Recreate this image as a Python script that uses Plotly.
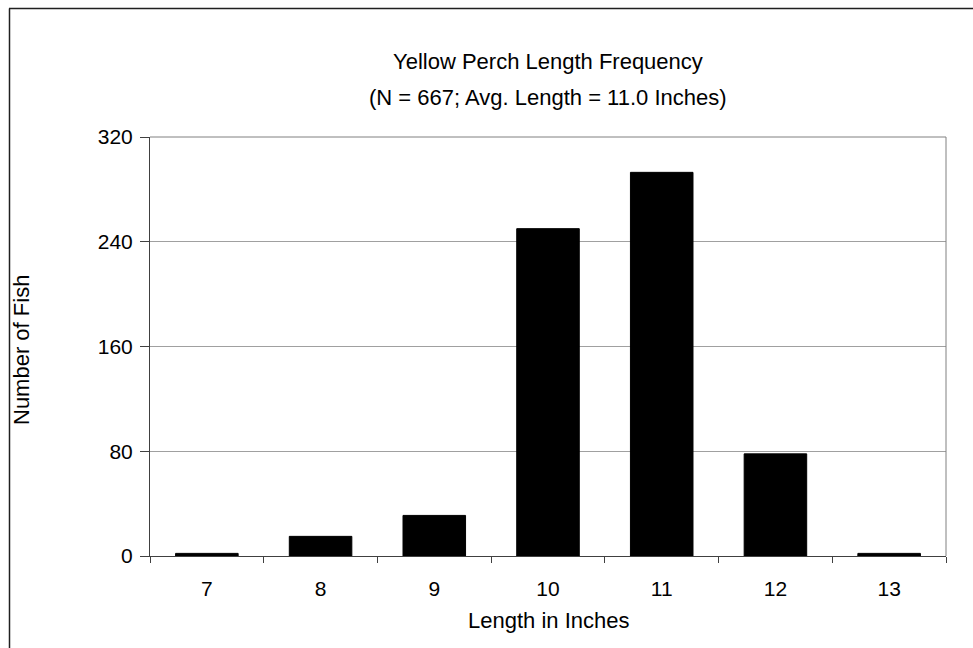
import plotly.graph_objects as go

lengths = ["7", "8", "9", "10", "11", "12", "13"]
counts = [2, 15, 31, 250, 293, 78, 2]
y_ticks = [0, 80, 160, 240, 320]
title_line1 = "Yellow Perch Length Frequency"
title_line2 = "(N = 667; Avg. Length = 11.0 Inches)"
x_title = "Length in Inches"
y_title = "Number of Fish"

FONT = "Liberation Sans, Arial, sans-serif"
W, H = 973, 648
L, R, T, B = 150, 27, 137, 92
pw = W - L - R
ph = H - T - B


def px_x(x):
    return (x - L) / pw


def px_y(y):
    return (H - B - y) / ph


fig = go.Figure()
fig.add_trace(go.Bar(x=lengths, y=counts,
                     marker=dict(color="black", line=dict(color="black", width=1)),
                     width=0.55, hoverinfo="skip"))

fig.update_layout(
    width=W, height=H,
    margin=dict(l=L, r=R, t=T, b=B),
    paper_bgcolor="white", plot_bgcolor="white",
    font=dict(family=FONT, size=21, color="black"),
    showlegend=False,
)
fig.update_xaxes(
    type="category", showgrid=False, showline=True, linecolor="#404040", linewidth=1,
    ticks="outside", tickson="boundaries", ticklen=6, tickcolor="#404040",
    ticklabelstandoff=14,
    tickfont=dict(size=21),
)
fig.update_yaxes(
    range=[0, 320], tickvals=y_ticks, showgrid=True, gridcolor="#a0a0a0", gridwidth=1,
    showline=True, linecolor="#404040", linewidth=1, ticks="outside", ticklen=9, tickcolor="#404040",
    zeroline=False, ticklabelstandoff=3,
    tickfont=dict(size=21),
)
# plot frame (top and right)
fig.add_shape(type="line", xref="paper", yref="paper", x0=0, x1=1, y0=1, y1=1,
              line=dict(color="#808080", width=1))
fig.add_shape(type="line", xref="paper", yref="paper", x0=1, x1=1, y0=0, y1=1,
              line=dict(color="#808080", width=1))
# outer chart border (top & left visible)
fig.add_shape(type="line", xref="paper", yref="paper",
              x0=px_x(9), x1=px_x(990), y0=px_y(8.5), y1=px_y(8.5),
              line=dict(color="#202020", width=1.5))
fig.add_shape(type="line", xref="paper", yref="paper",
              x0=px_x(9.5), x1=px_x(9.5), y0=px_y(8.5), y1=px_y(700),
              line=dict(color="#202020", width=1.5))

fig.add_annotation(text=title_line1, xref="paper", yref="paper", x=0.5, y=px_y(62),
                   showarrow=False, font=dict(size=22), yanchor="middle")
fig.add_annotation(text=title_line2, xref="paper", yref="paper", x=0.5, y=px_y(98),
                   showarrow=False, font=dict(size=22), yanchor="middle")
fig.add_annotation(text=x_title, xref="paper", yref="paper", x=0.5, y=px_y(620),
                   showarrow=False, font=dict(size=22), yanchor="middle")
fig.add_annotation(text=y_title, xref="paper", yref="paper", x=px_x(21), y=px_y(350),
                   showarrow=False, font=dict(size=22), textangle=-90,
                   xanchor="center", yanchor="middle")

fig.write_html("out.html", config={"displayModeBar": False},
               post_script="document.body.style.margin='0';document.body.style.overflow='hidden';")
